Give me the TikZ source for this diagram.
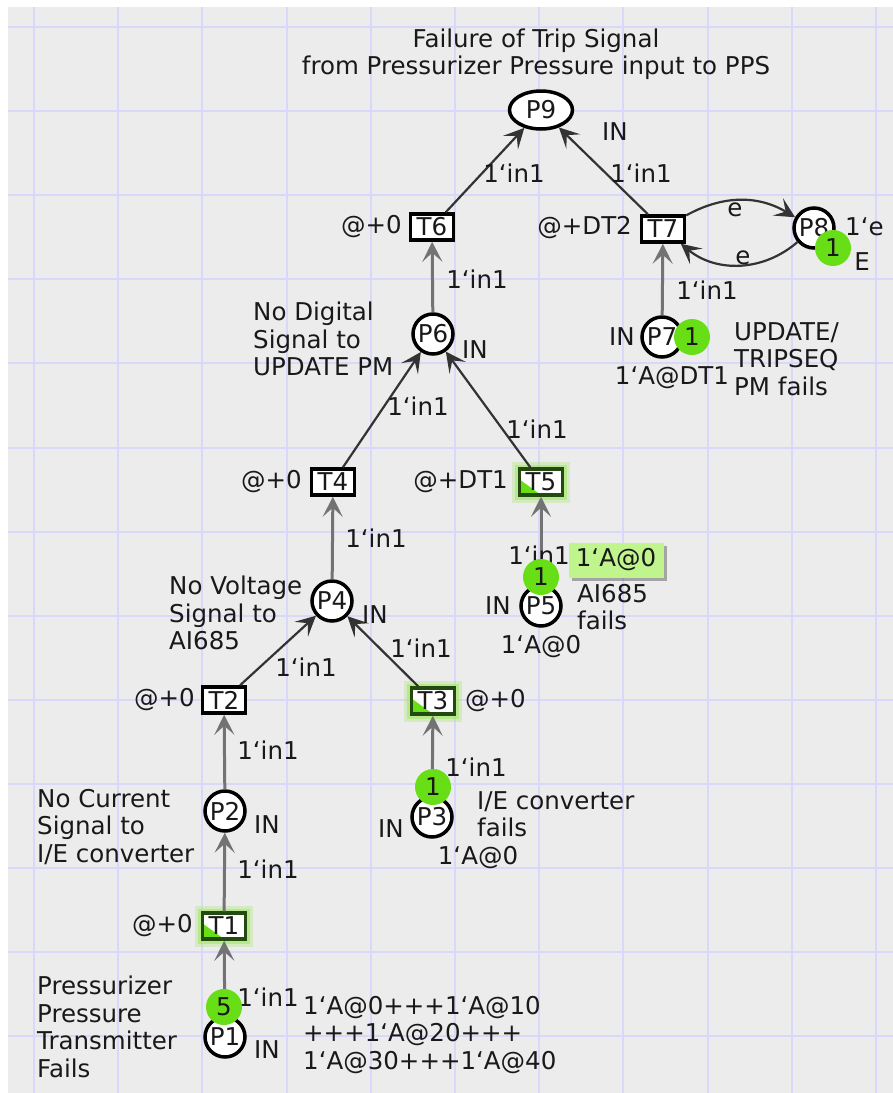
\documentclass[tikz,border=0pt]{standalone}
\usepackage{fontspec}
\setmainfont{DejaVu Sans}
\usepackage{tikz}
\usetikzlibrary{arrows.meta}
\usetikzlibrary{shapes.geometric}
\usetikzlibrary{shadows}
\usetikzlibrary{calc}

\definecolor{canvasgray}{RGB}{236,236,236}
\definecolor{gridblue}{RGB}{216,216,250}
\definecolor{tokgreen}{RGB}{104,222,22}
\definecolor{glowgreen}{RGB}{160,232,100}
\definecolor{markgreen}{RGB}{192,244,140}
\definecolor{edgegreen}{RGB}{35,75,15}
\definecolor{inkgray}{RGB}{25,25,25}

\newcommand{\backtick}{\char"60\relax}

\tikzset{
  every node/.style={font=\fontsize{24.5}{27.5}\selectfont, text=inkgray},
  place/.style={circle, draw=black, line width=3.5pt, fill=white, minimum size=40pt, inner sep=0pt},
  trans/.style={rectangle, draw=black, line width=3.5pt, fill=white, minimum width=43pt, minimum height=26pt, inner sep=0pt},
  enabled/.style={draw=edgegreen,
    preaction={draw=glowgreen, line width=15pt, opacity=.3},
    preaction={draw=glowgreen, line width=9pt, opacity=.55},
    path picture={\fill[tokgreen] (path picture bounding box.south west)
      -- ($(path picture bounding box.north west)!.4!(path picture bounding box.south west)$)
      -- (path picture bounding box.south) -- cycle;}},
  token/.style={circle, fill=tokgreen, minimum size=36pt, inner sep=0pt},
  note/.style={inner sep=0pt},
  arc/.style={draw=black!80, line width=2.2pt, -{Stealth[length=20pt,width=20pt,inset=9pt]}},
  varc/.style={arc, draw=black!55, line width=3pt},
}

\begin{document}
\begin{tikzpicture}[x=1pt, y=-1pt]
  \useasboundingbox (0,0) rectangle (893,1093);
  \fill[white] (0,0) rectangle (893,1093);
  \fill[canvasgray] (8,7) rectangle (893,1093);

  % grid
  \foreach \gx in {0,...,10}
    \draw[gridblue, line width=2pt] ({34+84.2*\gx},7) -- ({34+84.2*\gx},1093);
  \foreach \gy in {0,...,12}
    \draw[gridblue, line width=2pt] (8,{27+84.1*\gy}) -- (893,{27+84.1*\gy});

  \node[note, align=center] (title) at (536,54) {Failure of Trip Signal\\from Pressurizer Pressure input to PPS};

  % places
  \node[place] (P1) at (225,1037) {P1};
  \node[place] (P2) at (225,811) {P2};
  \node[place] (P3) at (432,817) {P3};
  \node[place] (P4) at (332,601) {P4};
  \node[place] (P5) at (541,606) {P5};
  \node[place] (P6) at (433,334) {P6};
  \node[place] (P7) at (662,337) {P7};
  \node[place] (P8) at (814,228) {P8};
  \node[place, ellipse, minimum width=63pt, minimum height=38pt] (P9) at (541,110) {P9};

  % transitions
  \node[trans, enabled] (T1) at (224,926) {T1};
  \node[trans] (T2) at (224,700) {T2};
  \node[trans, enabled] (T3) at (433,701) {T3};
  \node[trans] (T4) at (333,482) {T4};
  \node[trans, enabled] (T5) at (541,482) {T5};
  \node[trans] (T6) at (432,227) {T6};
  \node[trans] (T7) at (663,229) {T7};

  % arcs
  \draw[varc] (P1) -- (T1);
  \draw[varc] (T1) -- (P2);
  \draw[varc] (P2) -- (T2);
  \draw[varc] (P3) -- (T3);
  \draw[arc] (T2) -- (P4);
  \draw[arc] (T3) -- (P4);
  \draw[varc] (P4) -- (T4);
  \draw[varc] (P5) -- (T5);
  \draw[arc] (T4) -- (P6);
  \draw[arc] (T5) -- (P6);
  \draw[varc] (P6) -- (T6);
  \draw[varc] (P7) -- (T7);
  \draw[arc] (T6) -- (P9);
  \draw[arc] (T7) -- (P9);
  \draw[arc] (T7) to[bend left=30] (P8);
  \draw[arc] (P8) to[bend left=40] (T7);

  % arc inscriptions
  \foreach \nm/\px/\py in {a1/268/997, a2/268/869, a3/268/750, a4/306/667, a5/476/767,
                           a6/421/648, a7/376/538, a8/418/406, a9/539/555, a10/537/429,
                           a11/477/279, a12/514/173, a13/641/173, a14/707/290}
    \node[note] (\nm) at (\px,\py) {1\backtick in1};
  \node[note] (e1) at (735,210) {e};
  \node[note] (e2) at (743,258) {e};

  % port tags
  \foreach \nm/\px/\py in {p1/267/1050, p2/267/825, p3/391/829, p4/375/615,
                           p5/498/606, p6/475/350, p7/622/337, p9/615/132}
    \node[note] (in\nm) at (\px,\py) {IN};

  % time delays
  \node[note, anchor=east] (d1) at (193,926) {@+0};
  \node[note, anchor=east] (d2) at (195,700) {@+0};
  \node[note, anchor=west] (d3) at (465,701) {@+0};
  \node[note, anchor=east] (d4) at (302,482) {@+0};
  \node[note, anchor=east] (d5) at (508,482) {@+DT1};
  \node[note, anchor=east] (d6) at (402,227) {@+0};
  \node[note, anchor=east] (d7) at (632,228) {@+DT2};

  % initial markings and colour sets
  \node[note, align=left, anchor=west] (m1) at (303,1035) {1\backtick A@0+++1\backtick A@10\\+++1\backtick A@20+++\\1\backtick A@30+++1\backtick A@40};
  \node[note] (m3) at (478,858) {1\backtick A@0};
  \node[note] (m5) at (541,647) {1\backtick A@0};
  \node[note] (m7) at (672,378) {1\backtick A@DT1};
  \node[note, anchor=west] (m8) at (845,227) {1\backtick e};
  \node[note] (c8) at (862,262) {E};

  % descriptions
  \node[note, align=left, anchor=west] (n1) at (37,1027) {Pressurizer\\Pressure\\Transmitter\\Fails};
  \node[note, align=left, anchor=west] (n2) at (37,827) {No Current\\Signal to\\I/E converter};
  \node[note, align=left, anchor=west] (n3) at (477,814) {I/E converter\\fails};
  \node[note, align=left, anchor=west] (n4) at (169,613) {No Voltage\\Signal to\\AI685};
  \node[note, align=left, anchor=west] (n5) at (577,607) {AI685\\fails};
  \node[note, align=left, anchor=west] (n6) at (253,339) {No Digital\\Signal to\\UPDATE PM};
  \node[note, align=left, anchor=west] (n7) at (734,359) {UPDATE/\\TRIPSEQ\\PM fails};

  % tokens
  \node[token] (k1) at (224,1007) {5};
  \node[token] (k3) at (433,787) {1};
  \node[token] (k5) at (541,577) {1};
  \node[token] (k7) at (692,337) {1};
  \node[token] (k8) at (833,248) {1};

  % current marking of P5
  \node[fill=markgreen, inner sep=0pt, minimum width=95pt, minimum height=35pt,
        drop shadow={shadow xshift=3pt, shadow yshift=-3pt, fill=black, opacity=.3}] (cm5) at (616,560) {1\backtick A@0};
\end{tikzpicture}
\end{document}
